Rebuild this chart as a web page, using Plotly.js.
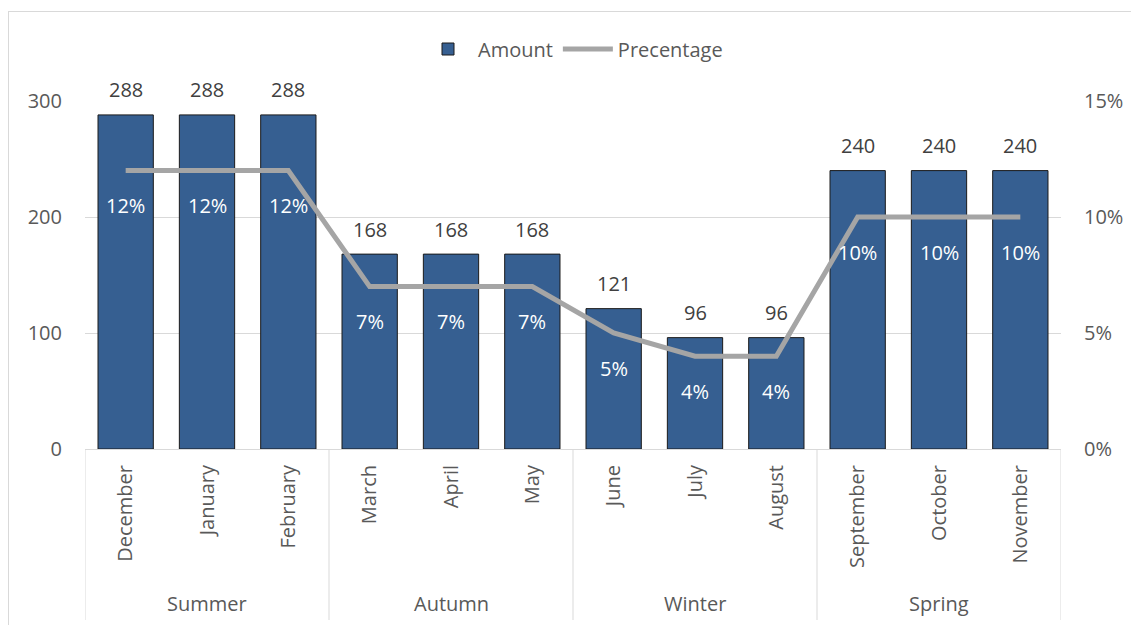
<!DOCTYPE html>
<html>
<head>
<meta charset="utf-8">
<script src="https://cdn.plot.ly/plotly-3.0.1.min.js"></script>
<style>
  html, body { margin: 0; padding: 0; background: #fff; overflow: hidden; }
  #chart { width: 1131px; height: 625px; position: absolute; left: 0; top: 0; }
  #frame { position: absolute; left: 8px; top: 11px; width: 1200px; height: 700px; border: 1px solid #D9D9D9; pointer-events: none; box-sizing: border-box; }
</style>
</head>
<body>
<div id="chart"></div>
<div id="frame"></div>
<script>
const months = ['December','January','February','March','April','May','June','July','August','September','October','November'];
const seasons = ['Summer','Summer','Summer','Autumn','Autumn','Autumn','Winter','Winter','Winter','Spring','Spring','Spring'];
const amounts = [288,288,288,168,168,168,121,96,96,240,240,240];
const percentages = [0.12,0.12,0.12,0.07,0.07,0.07,0.05,0.04,0.04,0.10,0.10,0.10];
const amountTicks = [0,100,200,300];
const pctTicks = [0,0.05,0.10,0.15];

const FONT = '"Open Sans", "DejaVu Sans", sans-serif';
const AXIS_GRAY = '#595959';
const LABEL_GRAY = '#404040';
const LINE_GRAY = '#D9D9D9';

const traces = [
  {
    type: 'bar', name: 'Amount', x: months, y: amounts,
    marker: { color: '#365F91', line: { color: '#1a1a1a', width: 1 } },
    hoverinfo: 'skip'
  },
  {
    type: 'scatter', mode: 'lines', name: 'Precentage', x: months, y: percentages,
    yaxis: 'y2', line: { color: '#A5A5A5', width: 5 },
    hoverinfo: 'skip'
  }
];

const annotations = [];
months.forEach((m, i) => {
  annotations.push({
    x: m, y: amounts[i], xref: 'x', yref: 'y', text: String(amounts[i]),
    showarrow: false, yanchor: 'middle', yshift: 25,
    font: { family: FONT, size: 20, color: LABEL_GRAY }
  });
  annotations.push({
    x: m, y: percentages[i], xref: 'x', yref: 'y2', text: Math.round(percentages[i] * 100) + '%',
    showarrow: false, yanchor: 'middle', yshift: -35,
    font: { family: FONT, size: 20, color: '#FFFFFF' }
  });
});

// group boundaries from seasons array
const shapes = [];
const groups = [];
let start = 0;
for (let i = 1; i <= seasons.length; i++) {
  if (i === seasons.length || seasons[i] !== seasons[start]) {
    groups.push({ name: seasons[start], start: start, end: i - 1 });
    start = i;
  }
}
const dividerBottom = -(620 - 449) / 348;
const seasonY = -(603 - 449) / 348;
groups.forEach((g, k) => {
  if (k === 0) {
    shapes.push({ type: 'line', xref: 'x', yref: 'paper', x0: g.start - 0.5, x1: g.start - 0.5, y0: 0, y1: dividerBottom, line: { color: LINE_GRAY, width: 1 } });
  }
  shapes.push({ type: 'line', xref: 'x', yref: 'paper', x0: g.end + 0.5, x1: g.end + 0.5, y0: 0, y1: dividerBottom, line: { color: LINE_GRAY, width: 1 } });
  annotations.push({
    x: (g.start + g.end) / 2, y: seasonY, xref: 'x', yref: 'paper', text: g.name,
    showarrow: false, yanchor: 'middle',
    font: { family: FONT, size: 20, color: AXIS_GRAY }
  });
});

const layout = {
  width: 1131, height: 625,
  margin: { l: 85, r: 70, t: 101, b: 176 },
  paper_bgcolor: 'rgba(0,0,0,0)', plot_bgcolor: 'rgba(0,0,0,0)',
  font: { family: FONT, size: 20, color: AXIS_GRAY },
  bargap: 0.32,
  showlegend: true,
  legend: {
    orientation: 'h', x: 0.5, xanchor: 'center', y: 1 + (101 - 49) / 348, yanchor: 'middle',
    font: { family: FONT, size: 20, color: AXIS_GRAY }, itemwidth: 50
  },
  xaxis: {
    type: 'category', range: [-0.5, months.length - 0.5],
    tickangle: -90, ticks: '', ticklabelstandoff: 7,
    showline: true, linecolor: LINE_GRAY, linewidth: 1,
    showgrid: false, zeroline: false,
    tickfont: { family: FONT, size: 20, color: AXIS_GRAY }
  },
  yaxis: {
    range: [0, 300], tickvals: amountTicks, ticktext: amountTicks.map(String),
    showgrid: true, gridcolor: LINE_GRAY, gridwidth: 1, zeroline: false,
    ticks: '', ticklabelstandoff: 22,
    tickfont: { family: FONT, size: 20, color: AXIS_GRAY }
  },
  yaxis2: {
    overlaying: 'y', side: 'right', range: [0, 0.15],
    tickvals: pctTicks, ticktext: pctTicks.map(v => Math.round(v * 100) + '%'),
    showgrid: false, zeroline: false, ticks: '', ticklabelstandoff: 22,
    tickfont: { family: FONT, size: 20, color: AXIS_GRAY }
  },
  annotations: annotations,
  shapes: shapes
};

Plotly.newPlot('chart', traces, layout, { displayModeBar: false, staticPlot: true });
</script>
</body>
</html>
